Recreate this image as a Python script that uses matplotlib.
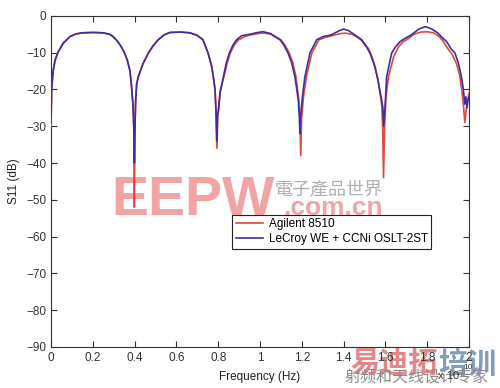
import matplotlib
matplotlib.use("Agg")
import matplotlib.pyplot as plt
from matplotlib.ticker import ScalarFormatter

# ---- data (frequency in units of 1e10 Hz, S11 in dB) ----
freq_lecroy = [0.000, 0.003, 0.010, 0.020, 0.035, 0.059, 0.091, 0.120, 0.150, 0.200,
               0.250, 0.280, 0.297, 0.320, 0.335, 0.349, 0.365, 0.378, 0.386, 0.392,
               0.396, 0.399, 0.402, 0.405, 0.410, 0.418, 0.440, 0.466, 0.490, 0.513,
               0.540, 0.569, 0.620, 0.665, 0.700, 0.727, 0.751, 0.770, 0.785, 0.790,
               0.793, 0.797, 0.802, 0.809, 0.825, 0.838, 0.853, 0.870, 0.888, 0.912,
               0.950, 0.990, 1.015, 1.050, 1.075, 1.096, 1.115, 1.134, 1.150, 1.167,
               1.183, 1.188, 1.191, 1.195, 1.203, 1.215, 1.239, 1.271, 1.303, 1.340,
               1.380, 1.400, 1.420, 1.450, 1.470, 1.487, 1.510, 1.526, 1.545, 1.561,
               1.582, 1.588, 1.592, 1.598, 1.606, 1.630, 1.650, 1.670, 1.700, 1.718,
               1.760, 1.790, 1.820, 1.850, 1.870, 1.893, 1.915, 1.933, 1.950, 1.965,
               1.973, 1.980, 1.985, 1.990, 1.995, 2.000]
s11_lecroy = [-29.0, -20.0, -15.0, -12.0, -9.7, -7.4, -5.6, -4.9, -4.6, -4.5,
              -4.6, -5.0, -5.6, -7.0, -8.3, -9.7, -12.0, -15.0, -19.6, -24.0,
              -30.0, -40.0, -30.0, -23.0, -18.5, -16.5, -13.0, -10.1, -8.0, -6.5,
              -5.2, -4.5, -4.4, -4.6, -5.3, -6.5, -10.0, -14.0, -20.0, -27.0,
              -34.0, -27.0, -25.6, -21.0, -16.5, -13.0, -10.1, -8.0, -6.5, -5.4,
              -5.0, -4.5, -4.3, -4.8, -5.8, -6.5, -8.0, -10.1, -12.5, -16.5,
              -22.8, -27.0, -32.0, -27.0, -22.0, -16.5, -10.1, -6.5, -5.6, -5.2,
              -4.0, -3.6, -3.9, -5.0, -5.8, -6.5, -8.5, -10.1, -13.0, -16.5,
              -22.8, -25.0, -30.0, -25.0, -16.5, -10.1, -8.3, -7.0, -5.9, -5.4,
              -3.6, -2.9, -3.5, -4.6, -5.8, -7.0, -9.0, -10.1, -13.0, -17.0,
              -20.0, -24.0, -22.0, -25.0, -23.0, -22.0]

freq_agilent = [0.000, 0.003, 0.010, 0.020, 0.035, 0.059, 0.091, 0.120, 0.150, 0.200,
                0.250, 0.280, 0.297, 0.320, 0.335, 0.349, 0.365, 0.378, 0.386, 0.392,
                0.396, 0.399, 0.402, 0.405, 0.410, 0.418, 0.440, 0.466, 0.490, 0.513,
                0.540, 0.569, 0.620, 0.665, 0.700, 0.727, 0.751, 0.770, 0.785, 0.790,
                0.794, 0.798, 0.803, 0.810, 0.828, 0.842, 0.858, 0.876, 0.898, 0.936,
                0.970, 1.000, 1.025, 1.055, 1.080, 1.100, 1.120, 1.140, 1.156, 1.172,
                1.186, 1.191, 1.195, 1.199, 1.208, 1.222, 1.248, 1.282, 1.315, 1.350,
                1.385, 1.410, 1.440, 1.465, 1.483, 1.500, 1.520, 1.535, 1.552, 1.566,
                1.582, 1.587, 1.591, 1.596, 1.603, 1.615, 1.640, 1.662, 1.685, 1.715,
                1.735, 1.770, 1.800, 1.830, 1.855, 1.875, 1.900, 1.920, 1.940, 1.955,
                1.965, 1.973, 1.980, 1.990, 2.000]
s11_agilent = [-30.0, -20.0, -15.0, -12.0, -9.7, -7.4, -5.6, -4.9, -4.6, -4.5,
               -4.6, -5.0, -5.6, -7.0, -8.3, -9.7, -12.0, -15.0, -19.6, -24.0,
               -30.0, -52.0, -30.0, -23.0, -18.5, -16.5, -13.0, -10.1, -8.0, -6.5,
               -5.2, -4.5, -4.4, -4.6, -5.3, -6.5, -10.0, -14.0, -20.0, -27.0,
               -36.0, -27.0, -24.0, -20.0, -16.5, -13.0, -10.1, -8.0, -6.5, -5.4,
               -5.0, -4.7, -4.7, -5.0, -5.8, -6.5, -8.0, -10.1, -12.5, -16.5,
               -23.0, -28.0, -38.0, -28.0, -22.0, -16.5, -10.1, -6.5, -5.8, -5.3,
               -4.8, -4.7, -5.0, -5.8, -6.5, -7.5, -9.0, -11.0, -14.0, -18.0,
               -24.0, -30.0, -44.0, -30.0, -22.0, -16.5, -11.0, -8.5, -7.0, -6.0,
               -5.0, -4.4, -4.3, -4.6, -5.5, -6.8, -9.0, -10.5, -13.0, -16.0,
               -20.0, -24.0, -29.0, -24.0, -21.0]

xticks = [0, 0.2, 0.4, 0.6, 0.8, 1.0, 1.2, 1.4, 1.6, 1.8, 2.0]
yticks = [0, -10, -20, -30, -40, -50, -60, -70, -80, -90]
series_labels = ["Agilent 8510", "LeCroy WE + CCNi OSLT-2ST"]
scale = 1e10

plt.rcParams['font.family'] = ['Liberation Sans', 'DejaVu Sans']

fig = plt.figure(figsize=(5.0, 3.88), dpi=100)
ax = fig.add_axes([0.102, 0.106, 0.836, 0.853])

ax.plot([f * scale for f in freq_agilent], s11_agilent, color='#e0473d', lw=1.2,
        label=series_labels[0], zorder=3)
ax.plot([f * scale for f in freq_lecroy], s11_lecroy, color='#3b2f9e', lw=1.2,
        label=series_labels[1], zorder=3)

ax.set_xlim(0, 2 * scale)
ax.set_ylim(-90, 0)
ax.set_xticks([t * scale for t in xticks])
ax.set_yticks(yticks)
fmt = ScalarFormatter(useMathText=True)
fmt.set_powerlimits((0, 0))
ax.xaxis.set_major_formatter(fmt)
ax.set_xticklabels([('%g' % t) for t in xticks])
ax.tick_params(direction='in', length=4, top=True, right=True, labelsize=8.5,
               colors='#333333', width=0.8)
for sp in ax.spines.values():
    sp.set_color('#333333')
    sp.set_linewidth(0.8)

ax.set_xlabel('Frequency (Hz)', fontsize=8.5, labelpad=5, color='#222222')
ax.set_ylabel('S11 (dB)', fontsize=8.5, labelpad=4, color='#222222')

# watermarks (behind the curves)
tf = fig.transFigure
ax.text(0.222, 0.447, 'EEPW', transform=tf, fontsize=40, fontweight='bold',
        color='#f2a4a4', zorder=1, clip_on=False)
ax.text(0.550, 0.500, '電子產品世界', transform=tf, fontsize=13, color='#b0b0b0',
        style='italic', family=['Noto Sans CJK TC', 'DejaVu Sans'], zorder=1, clip_on=False)
ax.text(0.566, 0.446, '.com.cn', transform=tf, fontsize=19, fontweight='bold',
        color='#f2a4a4', zorder=1, clip_on=False)
ax.text(0.700, 0.040, '易迪拓', transform=tf, fontsize=21, fontweight='bold',
        color='#e27a7a', alpha=0.9, family=['Noto Sans CJK SC', 'DejaVu Sans'],
        zorder=1, clip_on=False)
ax.text(0.876, 0.040, '培训', transform=tf, fontsize=21, fontweight='bold',
        color='#7393b4', alpha=0.9, family=['Noto Sans CJK SC', 'DejaVu Sans'],
        zorder=1, clip_on=False)
fig.text(0.688, 0.004, '射频和天线设计专家', fontsize=11.5, color='#8c8c8c',
         family=['Noto Sans CJK SC', 'DejaVu Sans'], va='bottom')

# offset text like MATLAB
fig.text(0.876, 0.022, 'x 10', fontsize=8, color='#333333')
fig.text(0.927, 0.048, '10', fontsize=6, color='#333333')

leg = ax.legend(loc='upper left', bbox_to_anchor=(0.433, 0.399), fontsize=8.5,
                frameon=True, fancybox=False, edgecolor='#222222', framealpha=1,
                borderpad=0.3, labelspacing=0.25, handlelength=2.3, handletextpad=0.5,
                borderaxespad=0)
leg.get_frame().set_linewidth(0.8)
leg.set_zorder(5)

fig.savefig('out.png', dpi=100)
